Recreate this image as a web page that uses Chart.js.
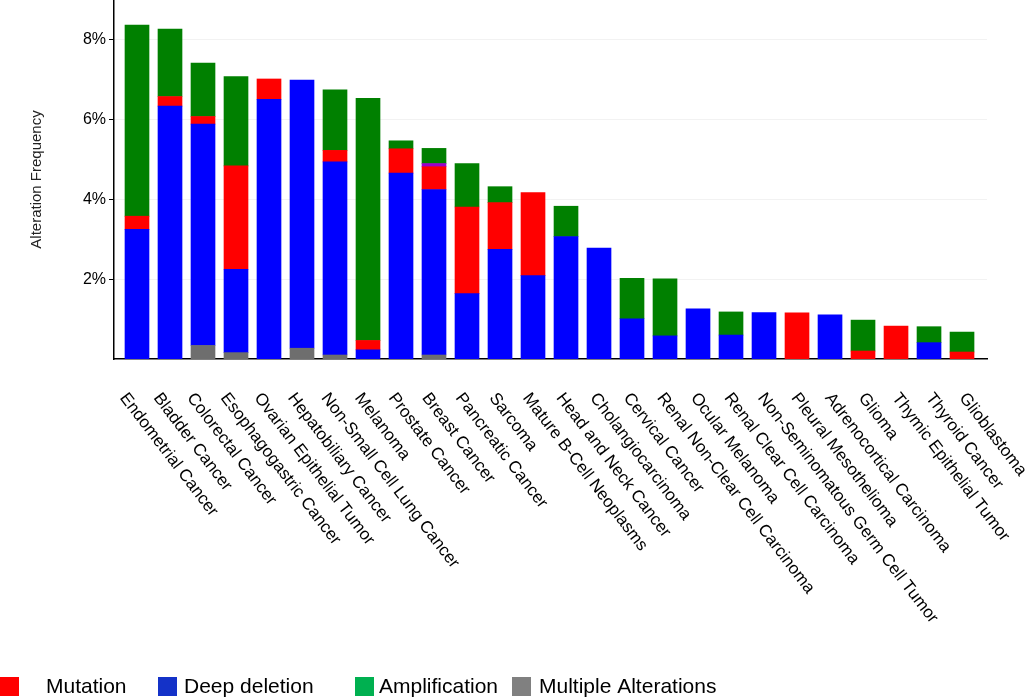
<!DOCTYPE html>
<html>
<head>
<meta charset="utf-8">
<script src="https://cdn.jsdelivr.net/npm/chart.js@4.4.0/dist/chart.umd.min.js"></script>
<style>
  html, body { margin: 0; padding: 0; background: #fff; }
  canvas { display: block; }
</style>
</head>
<body>
<canvas id="c" width="1025" height="698"></canvas>
<script>
// ---- Data ----
const categories = [
  "Endometrial Cancer", "Bladder Cancer", "Colorectal Cancer", "Esophagogastric Cancer",
  "Ovarian Epithelial Tumor", "Hepatobiliary Cancer", "Non-Small Cell Lung Cancer", "Melanoma",
  "Prostate Cancer", "Breast Cancer", "Pancreatic Cancer", "Sarcoma",
  "Mature B-Cell Neoplasms", "Head and Neck Cancer", "Cholangiocarcinoma", "Cervical Cancer",
  "Renal Non-Clear Cell Carcinoma", "Ocular Melanoma", "Renal Clear Cell Carcinoma",
  "Non-Seminomatous Germ Cell Tumor", "Pleural Mesothelioma", "Adrenocortical Carcinoma",
  "Glioma", "Thymic Epithelial Tumor", "Thyroid Cancer", "Glioblastoma"
];
const multipleAlterations = [0, 0, 0.34, 0.16, 0, 0.27, 0.10, 0, 0, 0.10, 0, 0, 0, 0, 0, 0, 0, 0, 0, 0, 0, 0, 0, 0, 0, 0];
const deepDeletion = [3.25, 6.34, 5.55, 2.09, 6.51, 6.72, 4.84, 0.23, 4.66, 4.15, 1.64, 2.75, 2.09, 3.07, 2.78, 1.01, 0.58, 1.26, 0.60, 1.165, 0, 1.11, 0, 0, 0.41, 0];
const mutation = [0.33, 0.24, 0.19, 2.59, 0.51, 0, 0.29, 0.235, 0.61, 0.57, 2.17, 1.17, 2.08, 0, 0, 0, 0, 0, 0, 0, 1.16, 0, 0.20, 0.825, 0, 0.175];
const otherAlteration = [0, 0, 0, 0, 0, 0, 0, 0, 0, 0.08, 0, 0, 0, 0, 0, 0, 0, 0, 0, 0, 0, 0, 0, 0, 0, 0];
const amplification = [4.79, 1.69, 1.34, 2.24, 0, 0, 1.52, 6.07, 0.20, 0.38, 1.09, 0.40, 0, 0.76, 0, 1.01, 1.43, 0, 0.58, 0, 0, 0, 0.775, 0, 0.40, 0.50];
const yTickValues = [2, 4, 6, 8];
const legendLabels = ["Mutation", "Deep deletion", "Amplification", "Multiple Alterations"];

// ---- Styles ----
const FONT = '"Liberation Sans", Arial, Helvetica, sans-serif';
Chart.defaults.font.family = FONT;
const barColors = {
  multiple: '#6e6e6e', deep: '#0000ff', mutation: '#ff0000', other: '#9a00cc', amp: '#008000'
};
const legendStyle = [
  { color: '#ff0000', box: 0, text: 46 },
  { color: '#1432c8', box: 158, text: 184 },
  { color: '#00b050', box: 355, text: 379 },
  { color: '#808080', box: 512, text: 539 }
];

const toPoints = arr => arr.map((v, i) => ({ x: i, y: v > 0 ? v : null }));
const mk = (label, arr, color) => ({
  label, data: toPoints(arr), backgroundColor: color, borderWidth: 0, barThickness: 24
});

const labelsPlugin = {
  id: 'customText',
  afterDraw(chart) {
    const { ctx, chartArea } = chart;
    const n = categories.length;
    const step = (chartArea.right - chartArea.left) / n;
    ctx.save();
    ctx.fillStyle = '#000';
    ctx.font = '17px ' + FONT;
    ctx.textAlign = 'left';
    ctx.textBaseline = 'top';
    categories.forEach((c, i) => {
      const x = chartArea.left + step * (i + 0.5) - 1;
      const y = chartArea.bottom + 31;
      ctx.save();
      ctx.translate(x, y);
      ctx.rotate(52.5 * Math.PI / 180);
      ctx.fillText(c, 0, 0);
      ctx.restore();
    });
    // legend
    ctx.font = '21px ' + FONT;
    ctx.textBaseline = 'alphabetic';
    legendLabels.forEach((t, i) => {
      const s = legendStyle[i];
      ctx.fillStyle = s.color;
      ctx.fillRect(s.box, 677, 19, 19);
      ctx.fillStyle = '#000';
      ctx.fillText(t, s.text, 693);
    });
    ctx.restore();
  }
};

new Chart(document.getElementById('c'), {
  type: 'bar',
  data: {
    datasets: [
      mk('Multiple Alterations', multipleAlterations, barColors.multiple),
      mk('Deep deletion', deepDeletion, barColors.deep),
      mk('Mutation', mutation, barColors.mutation),
      mk('Other', otherAlteration, barColors.other),
      mk('Amplification', amplification, barColors.amp)
    ]
  },
  options: {
    responsive: false,
    animation: false,
    devicePixelRatio: 1,
    layout: { padding: { left: 0, right: 38, top: 0, bottom: 339 } },
    plugins: { legend: { display: false }, tooltip: { enabled: false } },
    scales: {
      x: {
        type: 'linear',
        min: -0.697,
        max: 25.757,
        offset: false,
        stacked: true,
        grid: { display: false, offset: false },
        ticks: { display: false },
        border: { display: true, color: '#000', width: 1.5 },
        afterFit(s) { s.height = 0; s.paddingLeft = 0; s.paddingRight = 0; }
      },
      y: {
        min: 0,
        max: 9,
        stacked: true,
        afterBuildTicks(s) { s.ticks = yTickValues.map(v => ({ value: v })); },
        ticks: {
          callback: v => v + '%',
          color: '#000',
          font: { size: 16 },
          padding: 3
        },
        grid: { color: 'rgba(0,0,0,0.05)', tickColor: '#000', tickLength: 5, drawOnChartArea: true },
        border: { display: true, color: '#000', width: 1.5 },
        title: {
          display: true,
          text: 'Alteration Frequency',
          color: '#222',
          font: { size: 15 },
          padding: { top: 28, bottom: 0 }
        },
        afterFit(s) { s.width = 114; s.paddingTop = 0; s.paddingBottom = 0; }
      }
    }
  },
  plugins: [labelsPlugin]
});
</script>
</body>
</html>
